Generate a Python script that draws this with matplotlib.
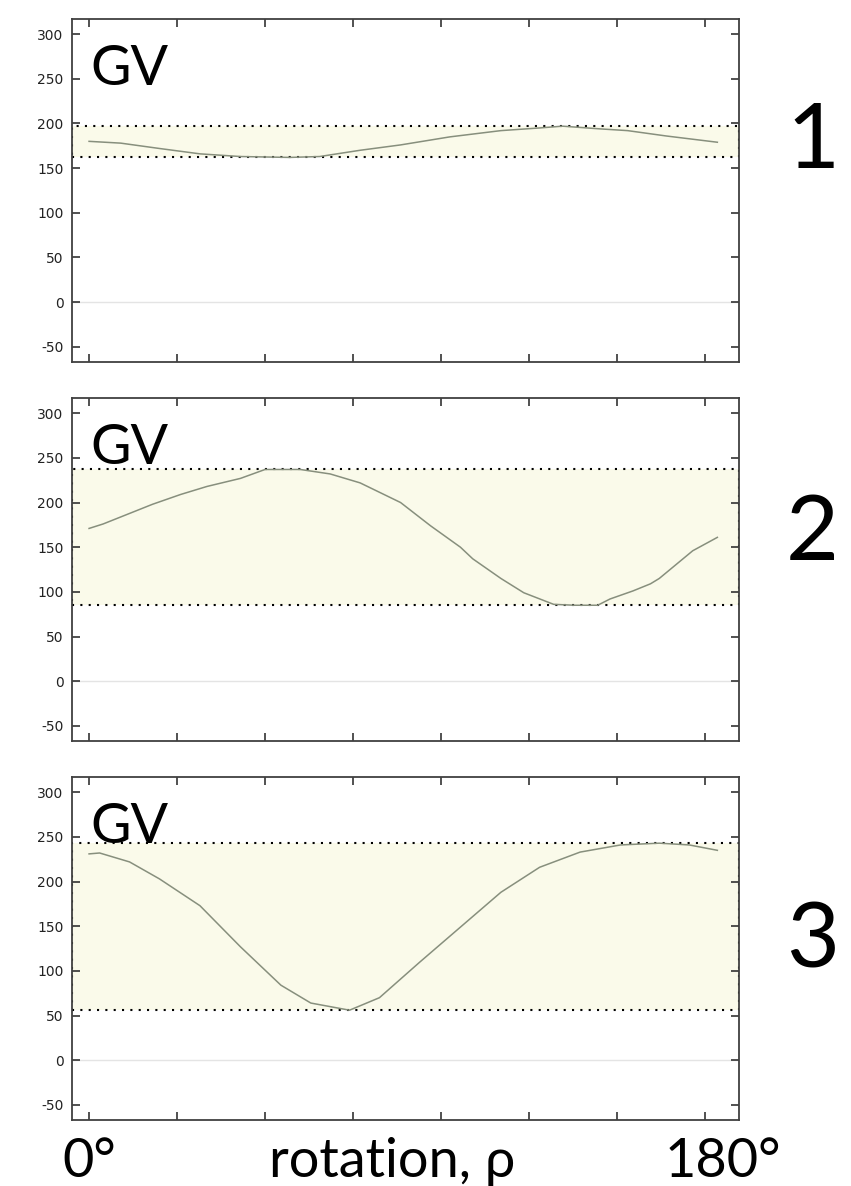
import matplotlib
matplotlib.use("Agg")
import matplotlib.pyplot as plt
import matplotlib.transforms as mtransforms

plt.rcParams["axes.unicode_minus"] = False

# sample index along the rotation (0 .. ~357 samples = 0 .. 180 deg) and grey value
x1 = [0, 18, 40, 63, 86, 114, 131, 154, 177, 205, 234, 256, 269, 290, 306, 328, 357]
gv1 = [180, 178, 172, 166, 163, 162, 163, 170, 176, 185, 192, 195, 197, 194, 192, 186, 179]

x2 = [0, 8, 22, 36, 52, 67, 86, 100, 120, 137, 154, 177, 194, 211, 218, 234, 247,
      264, 276, 289, 296, 309, 319, 324, 343, 357]
gv2 = [171, 176, 187, 198, 209, 218, 227, 237, 237, 232, 222, 200, 174, 150, 137, 115, 99,
       86, 85, 85, 92, 101, 109, 115, 146, 161]

x3 = [0, 6, 23, 40, 63, 86, 109, 126, 148, 165, 188, 211, 234, 256, 279, 302, 324, 341, 357]
gv3 = [231, 232, 222, 203, 173, 127, 84, 64, 56, 70, 110, 149, 188, 216, 233, 241, 243, 241, 235]

panel_names = ["1", "2", "3"]
yticks = [-50, 0, 50, 100, 150, 200, 250, 300]
xticks = [0, 50, 100, 150, 200, 250, 300, 350]

big_font = ["Lato", "DejaVu Sans"]

fig = plt.figure(figsize=(8.51, 11.86), dpi=100)

# axes boxes (left, bottom, width, height) in figure fractions
boxes = [(0.0846, 0.6948, 0.7838, 0.2892),
         (0.0846, 0.3752, 0.7838, 0.2892),
         (0.0846, 0.0556, 0.7838, 0.2892)]
# baseline of the big panel number, figure fraction
num_y = [1 - 168 / 1186, 1 - 560 / 1186, 1 - 967 / 1186]

series = [(x1, gv1), (x2, gv2), (x3, gv3)]
axes = []
for i, (xs, ys) in enumerate(series):
    ax = fig.add_axes(boxes[i])
    axes.append(ax)
    lo, hi = min(ys), max(ys)
    # range band
    ax.axhspan(lo, hi, facecolor="#fafaea", edgecolor="black",
               linestyle=(0, (1, 3)), linewidth=1.5, zorder=1)
    ax.axhline(0, color="#e4e4e4", linewidth=1.0, zorder=1.5)
    ax.plot(xs, ys, color="#878f7d", linewidth=1.1, zorder=3)

    ax.set_xlim(-9.7, 369.3)
    ax.set_ylim(-67, 317)
    ax.set_yticks(yticks)
    ax.set_xticks(xticks)
    ax.set_xticklabels([])
    ax.tick_params(direction="in", length=6, width=1.2, color="#333333",
                   top=True, right=True, labelsize=10, labelcolor="#222222", pad=6)
    for sp in ax.spines.values():
        sp.set_color("#404040")
        sp.set_linewidth(1.3)

    ax.text(0.027, 0.808, "GV", transform=ax.transAxes, fontsize=40,
            family=big_font, va="baseline", ha="left", zorder=5)
    fig.text(0.955, num_y[i], panel_names[i], fontsize=66, family=big_font,
             va="baseline", ha="center")

# bottom labels
ax = axes[-1]
trans = mtransforms.blended_transform_factory(ax.transData, fig.transFigure)
base = 1 - 1177 / 1186
ax.text(0, base, "0°", transform=trans, fontsize=39, family=big_font,
        ha="center", va="baseline")
ax.text(172, base, "rotation, ρ", transform=trans, fontsize=39, family=big_font,
        ha="center", va="baseline")
ax.text(360, base, "180°", transform=trans, fontsize=39, family=big_font,
        ha="center", va="baseline")

plt.savefig("out.png", dpi=100)
